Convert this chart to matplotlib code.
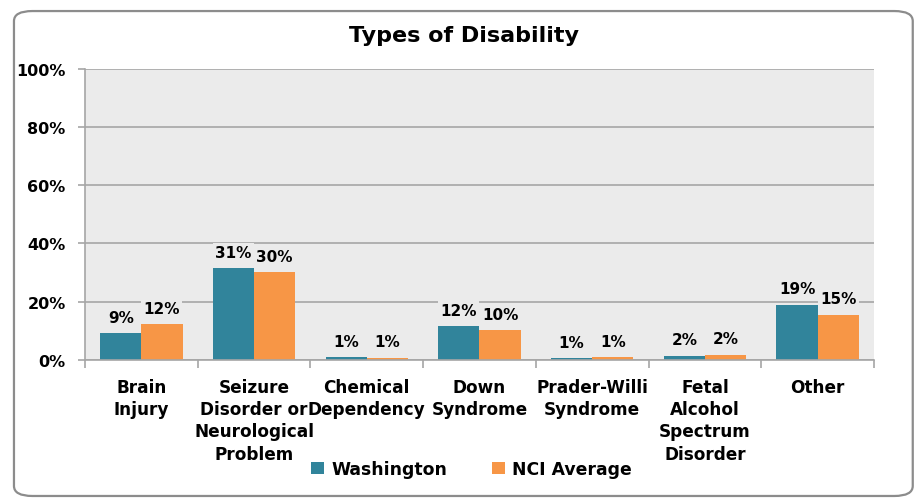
import numpy as np
import matplotlib
matplotlib.use("Agg")
import matplotlib.pyplot as plt
from matplotlib.patches import FancyBboxPatch

plt.rcParams['font.family'] = ['DejaVu Sans']

# data
categories = ["Brain\nInjury", "Seizure\nDisorder or\nNeurological\nProblem", "Chemical\nDependency",
              "Down\nSyndrome", "Prader-Willi\nSyndrome", "Fetal\nAlcohol\nSpectrum\nDisorder", "Other"]
washington = [9.2, 31.5, 1.0, 11.6, 0.7, 1.5, 19.0]
nci_average = [12.4, 30.1, 0.8, 10.3, 0.9, 1.8, 15.5]
wa_labels = ["9%", "31%", "1%", "12%", "1%", "2%", "19%"]
nci_labels = ["12%", "30%", "1%", "10%", "1%", "2%", "15%"]
y_ticks = [0, 20, 40, 60, 80, 100]

teal = "#31849B"
orange = "#F79646"
plot_bg = "#EBEBEB"

fig = plt.figure(figsize=(9.19, 5.02), dpi=100)

# rounded chart border
border = FancyBboxPatch((0.0152, 0.010), 0.978, 0.966, boxstyle="round,pad=0,rounding_size=0.02",
                        transform=fig.transFigure, facecolor="white", edgecolor="#8C8C8C",
                        linewidth=1.6, zorder=-5)
fig.patches.append(border)

ax = fig.add_axes([0.0925, 0.281, 0.8585, 0.580])
ax.set_facecolor(plot_bg)

x = np.arange(len(categories))
w = 0.365
b1 = ax.bar(x - w / 2, washington, w, color=teal, label="Washington", zorder=2)
b2 = ax.bar(x + w / 2, nci_average, w, color=orange, label="NCI Average", zorder=2)

for bars, labs in ((b1, wa_labels), (b2, nci_labels)):
    for bar, lab in zip(bars, labs):
        ax.annotate(lab, (bar.get_x() + bar.get_width() / 2, bar.get_height()),
                    xytext=(0, 6), textcoords="offset points", ha="center", va="bottom",
                    fontsize=11, fontweight="bold", zorder=4,
                    bbox=dict(boxstyle="square,pad=0.15", facecolor=plot_bg, edgecolor="none"))

ax.set_xlim(-0.5, len(categories) - 0.5)
ax.set_ylim(0, 100)
ax.set_yticks(y_ticks)
ax.set_yticklabels([f"{t}%" for t in y_ticks], fontsize=11.5, fontweight="bold")
ax.yaxis.grid(True, color="#A6A6A6", linewidth=1.2, zorder=1)
ax.set_axisbelow(True)
ax.tick_params(axis="y", length=5, color="#A6A6A6", width=1.2, pad=9)

# category labels centred, ticks at boundaries
ax.set_xticks(x)
ax.set_xticklabels(categories, fontsize=12.2, fontweight="bold", linespacing=1.3, va="top")
ax.tick_params(axis="x", length=0, pad=13)
ax.set_xticks(np.arange(len(categories) + 1) - 0.5, minor=True)
ax.tick_params(axis="x", which="minor", length=6, color="#A6A6A6", width=1.2)

for s in ("top", "right"):
    ax.spines[s].set_visible(False)
for s in ("left", "bottom"):
    ax.spines[s].set_color("#A6A6A6")
    ax.spines[s].set_linewidth(1.2)

fig.text(0.505, 0.928, "Types of Disability", ha="center", va="center",
         fontsize=16, fontweight="bold")

fig.legend(handles=[b1, b2], loc="center", bbox_to_anchor=(0.513, 0.064), ncol=2,
           frameon=False, prop=dict(size=12.4, weight="bold"), handlelength=0.75,
           handleheight=0.75, handletextpad=0.4, columnspacing=2.6)

fig.savefig("out.png", dpi=100)
